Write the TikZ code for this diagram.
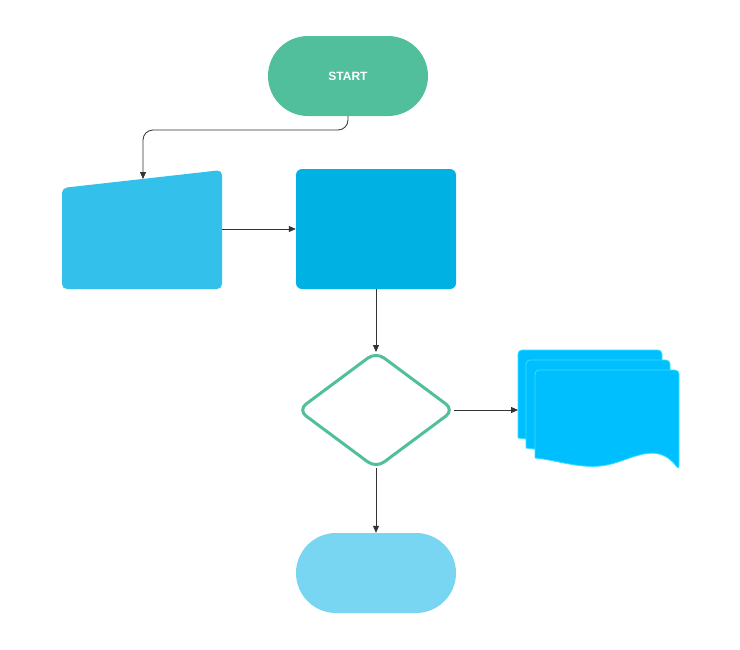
\documentclass[tikz,border=0pt]{standalone}
\usepackage{fontspec}
\setmainfont{Liberation Sans}
\usetikzlibrary{shapes.geometric,arrows.meta}
\definecolor{cgreen}{HTML}{52BF9C}
\definecolor{cin}{HTML}{33C1EB}
\definecolor{cproc}{HTML}{00B2E3}
\definecolor{cdoc}{HTML}{00BFFF}
\definecolor{cdocl}{HTML}{33E0FF}
\definecolor{cend}{HTML}{79D6F2}
\definecolor{cline}{HTML}{333333}
\tikzset{conn/.style={draw=cline,line width=0.8pt,-{Triangle[length=7pt,width=6pt]}},
 docshape/.style={fill=cdoc,draw=cdocl,line width=0.8pt}}
\begin{document}
\begin{tikzpicture}[x=1pt,y=-1pt]
\useasboundingbox (0,0) rectangle (740,649);
% start
\node[fill=cgreen,rounded corners=40pt,minimum width=160pt,minimum height=80pt,inner sep=0pt,text=white,font=\bfseries\fontsize{12}{14}\selectfont] (start) at (348,76) {START};
% manual input
\fill[cin,rounded corners=5pt] (62,188) -- (222,170) -- (222,289) -- (62,289) -- cycle;
\coordinate (inTop) at (143,179);
\coordinate (inR) at (222,229);
% process
\node[fill=cproc,rounded corners=6pt,minimum width=160pt,minimum height=120pt,inner sep=0pt] (proc) at (376,229) {};
% decision
\draw[cgreen,line width=3pt,fill=white,rounded corners=10pt] (376,352) -- (454,410) -- (376,468) -- (298,410) -- cycle;
\coordinate (dT) at (376,352);
\coordinate (dR) at (454,410);
\coordinate (dB) at (376,468);
% documents
\foreach \dx/\dy in {0/0,8/10,17/20}{
 \draw[docshape,rounded corners=4pt] (518+\dx,438+\dy) -- (518+\dx,350+\dy) -- (662+\dx,350+\dy) -- (662+\dx,450+\dy)
  [sharp corners] .. controls (640+\dx,420+\dy) and (615+\dx,440+\dy) .. (590+\dx,445+\dy)
  .. controls (565+\dx,450+\dy) and (540+\dx,440+\dy) .. (518+\dx,438+\dy) -- cycle;}
\coordinate (docL) at (518,410);
% end
\node[fill=cend,rounded corners=40pt,minimum width=160pt,minimum height=80pt,inner sep=0pt] (endn) at (376,573) {};
% connectors
\draw[conn,rounded corners=10pt] (start.south) -- (348,130) -- (143,130) -- (inTop);
\draw[conn] (inR) -- (proc.west);
\draw[conn] (proc.south) -- (dT);
\draw[conn] (dR) -- (docL);
\draw[conn] (dB) -- (endn.north);
\end{tikzpicture}
\end{document}
